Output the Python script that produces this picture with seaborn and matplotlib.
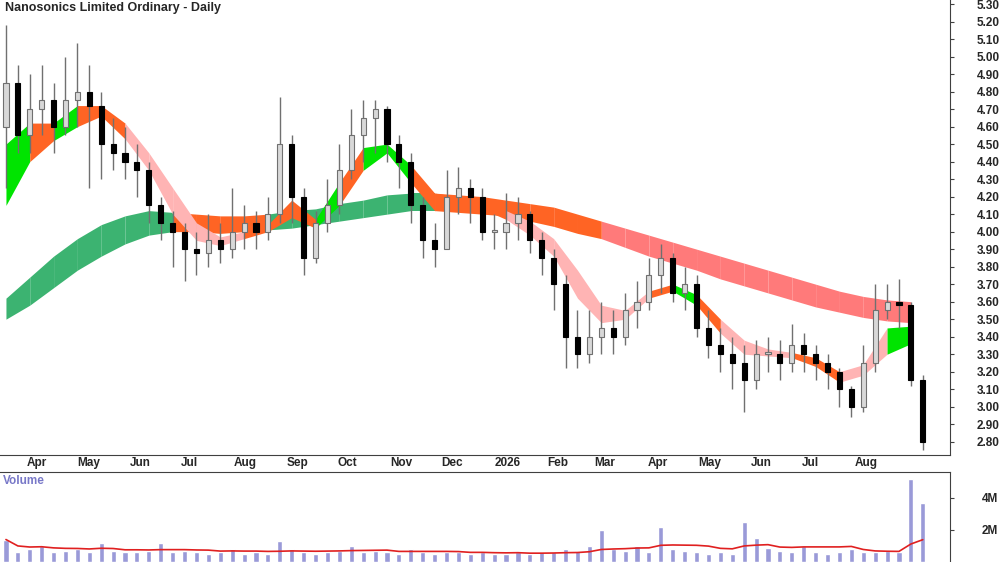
import matplotlib
matplotlib.use("Agg")
import matplotlib.pyplot as plt
import numpy as np
import pandas as pd
import seaborn as sns

TITLE = "Nanosonics Limited Ordinary - Daily"
START = "2025-03-24"

closes = [4.85, 4.55, 4.70, 4.75, 4.60, 4.75, 4.80, 4.72, 4.50, 4.45,
          4.40, 4.35, 4.15, 4.05, 4.00, 3.90, 3.88, 3.95, 3.90, 4.00,
          4.05, 4.00, 4.10, 4.50, 4.20, 3.85, 4.05, 4.15, 4.35, 4.55,
          4.65, 4.70, 4.50, 4.40, 4.15, 3.95, 3.90, 4.20, 4.25, 4.20,
          4.00, 4.00, 4.05, 4.10, 3.95, 3.85, 3.70, 3.40, 3.30, 3.40,
          3.45, 3.40, 3.55, 3.60, 3.75, 3.85, 3.65, 3.70, 3.45, 3.35,
          3.30, 3.25, 3.15, 3.30, 3.30, 3.25, 3.35, 3.30, 3.25, 3.20,
          3.10, 3.00, 3.25, 3.55, 3.60, 3.58, 3.15, 2.80]
first_open = 4.60
highs = [5.18, 4.95, 4.90, 4.95, 4.85, 5.00, 5.08, 4.95, 4.80, 4.65,
         4.60, 4.50, 4.40, 4.20, 4.12, 4.05, 4.00, 4.10, 4.05, 4.25,
         4.15, 4.12, 4.20, 4.77, 4.55, 4.25, 4.12, 4.30, 4.50, 4.70,
         4.75, 4.75, 4.72, 4.55, 4.45, 4.20, 4.05, 4.35, 4.37, 4.30,
         4.25, 4.10, 4.22, 4.20, 4.12, 4.00, 3.90, 3.75, 3.55, 3.55,
         3.60, 3.55, 3.65, 3.72, 3.85, 3.93, 3.88, 3.80, 3.75, 3.55,
         3.45, 3.40, 3.35, 3.38, 3.40, 3.38, 3.47, 3.42, 3.35, 3.30,
         3.22, 3.12, 3.35, 3.70, 3.70, 3.73, 3.60, 3.18]
lows = [4.25, 4.45, 4.45, 4.55, 4.45, 4.55, 4.60, 4.25, 4.30, 4.35,
        4.30, 4.20, 4.05, 3.95, 3.80, 3.72, 3.75, 3.80, 3.82, 3.85,
        3.90, 3.90, 3.95, 4.05, 4.05, 3.75, 3.82, 4.00, 4.10, 4.30,
        4.40, 4.45, 4.40, 4.25, 4.05, 3.85, 3.80, 3.90, 4.10, 4.05,
        3.95, 3.90, 3.90, 3.95, 3.88, 3.75, 3.55, 3.22, 3.22, 3.25,
        3.30, 3.30, 3.35, 3.45, 3.55, 3.65, 3.60, 3.55, 3.40, 3.28,
        3.20, 3.10, 2.97, 3.10, 3.20, 3.15, 3.20, 3.20, 3.15, 3.10,
        3.00, 2.94, 2.97, 3.20, 3.50, 3.45, 3.12, 2.75]
volume_m = [1.4, 0.6, 0.8, 1.0, 0.6, 0.7, 0.8, 0.6, 1.2, 0.7,
            0.6, 0.6, 0.7, 1.2, 0.6, 0.7, 0.6, 0.5, 0.6, 0.8,
            0.5, 0.6, 0.5, 1.3, 0.8, 0.6, 0.5, 0.6, 0.7, 1.0,
            0.6, 0.7, 0.6, 0.5, 0.8, 0.6, 0.5, 0.6, 0.6, 0.5,
            0.6, 0.5, 0.5, 0.6, 0.5, 0.6, 0.6, 0.8, 0.7, 1.0,
            2.0, 0.8, 0.7, 1.0, 0.6, 2.2, 0.8, 0.7, 0.6, 0.5,
            0.6, 0.5, 2.5, 1.5, 0.9, 0.7, 0.6, 1.0, 0.6, 0.5,
            0.6, 0.8, 0.6, 0.6, 0.7, 0.6, 5.2, 3.7]

# moving average ribbons, sampled every second bar
short_upper = [4.50, 4.62, 4.62, 4.72, 4.72, 4.62, 4.45, 4.25, 4.05, 3.97,
               4.00, 4.04, 4.18, 4.07, 4.28, 4.48, 4.50, 4.38, 4.22, 4.20,
               4.17, 4.12, 4.06, 3.96, 3.78, 3.58, 3.55, 3.66, 3.70, 3.64,
               3.50, 3.38, 3.33, 3.31, 3.28, 3.20, 3.24, 3.45, 3.46]
short_lower = [4.15, 4.40, 4.52, 4.60, 4.66, 4.53, 4.35, 4.10, 3.95, 3.92,
               3.96, 4.00, 4.08, 4.02, 4.15, 4.35, 4.45, 4.28, 4.12, 4.14,
               4.13, 4.07, 3.98, 3.86, 3.62, 3.48, 3.50, 3.62, 3.66, 3.58,
               3.42, 3.30, 3.29, 3.28, 3.23, 3.14, 3.18, 3.30, 3.36]
short_state = list("gogoopppppooogoggooooppppppogopppooppggg")
long_upper = [3.62, 3.74, 3.86, 3.96, 4.04, 4.09, 4.12, 4.11, 4.10, 4.09,
              4.09, 4.10, 4.12, 4.13, 4.16, 4.18, 4.21, 4.22, 4.22, 4.21,
              4.20, 4.18, 4.16, 4.14, 4.10, 4.06, 4.02, 3.98, 3.94, 3.90,
              3.86, 3.82, 3.78, 3.74, 3.70, 3.66, 3.63, 3.61, 3.60]
long_lower = [3.50, 3.58, 3.68, 3.78, 3.86, 3.93, 3.98, 4.00, 4.00, 3.99,
              4.00, 4.01, 4.02, 4.04, 4.06, 4.08, 4.10, 4.12, 4.12, 4.11,
              4.10, 4.09, 4.06, 4.03, 3.99, 3.96, 3.91, 3.86, 3.82, 3.78,
              3.73, 3.69, 3.65, 3.61, 3.57, 3.54, 3.51, 3.49, 3.48]
long_state = list("gggggggoooogggggggooooooorrrrrrrrrrrrroo")

SHORT_COLORS = {"g": "#00e400", "p": "#ffb4b4", "o": "#ff6424"}
LONG_COLORS = {"g": "#3cb371", "r": "#ff7a7a", "o": "#ff6424"}
MONTHS = ["Apr", "May", "Jun", "Jul", "Aug", "Sep", "Oct", "Nov", "Dec",
          "2026", "Feb", "Mar", "Apr", "May", "Jun", "Jul", "Aug"]

sns.set_style("white")
plt.rcParams["font.family"] = ["Liberation Sans", "DejaVu Sans"]

dates = pd.date_range(START, periods=len(closes), freq="7D")
opens = [first_open] + closes[:-1]
df = pd.DataFrame({"date": dates, "open": opens, "high": highs, "low": lows,
                   "close": closes, "volume": volume_m})
df["avg"] = df["volume"].rolling(10, min_periods=1).mean()
band_dates = dates[::2]

fig = plt.figure(figsize=(10, 5.62), dpi=100)
ax = fig.add_axes([0, 0.19, 0.95, 0.81])
vax = fig.add_axes([0, 0, 0.95, 0.16])

for upper, lower, state, colors in [(long_upper, long_lower, long_state, LONG_COLORS),
                                    (short_upper, short_lower, short_state, SHORT_COLORS)]:
    for k in range(len(upper) - 1):
        ax.fill_between(band_dates[k:k + 2], lower[k:k + 2], upper[k:k + 2],
                        color=colors[state[k]], lw=0, zorder=1)

ax.vlines(df["date"], df["low"], df["high"], color="#707070", lw=1, zorder=2)
up = df["close"] >= df["open"]
body = (df["close"] - df["open"]).abs().clip(lower=0.01)
bottom = df[["open", "close"]].min(axis=1)
ax.bar(df["date"][up], body[up], bottom=bottom[up], width=3,
       color="#d8d8d8", edgecolor="#707070", lw=0.8, zorder=3)
ax.bar(df["date"][~up], body[~up], bottom=bottom[~up], width=3,
       color="black", edgecolor="black", lw=0.8, zorder=3)

xmin = dates[0] - pd.Timedelta(days=3.5)
xmax = dates[0] + pd.Timedelta(days=555)
for a in (ax, vax):
    a.set_xlim(xmin, xmax)
    a.yaxis.tick_right()
    for s in ("left", "top"):
        a.spines[s].set_visible(False)
    for s in ("right", "bottom"):
        a.spines[s].set_color("#404040")
    a.tick_params(axis="y", direction="out", length=3, pad=16, labelsize=8.5,
                  color="#404040")

ax.set_ylim(2.723, 5.323)
ticks = np.round(np.arange(2.8, 5.31, 0.1), 2)
ax.set_yticks(ticks)
ax.set_yticklabels([f"{t:.2f}" for t in ticks], fontweight="bold")

month_starts = pd.date_range("2025-04-01", periods=len(MONTHS), freq="MS")
ax.set_xticks(month_starts)
ax.set_xticklabels([])
ax.tick_params(axis="x", direction="out", length=3, color="#404040")
for d, name in zip(month_starts, MONTHS):
    ax.text(d + pd.Timedelta(days=4), -0.005, name, transform=ax.get_xaxis_transform(),
            ha="left", va="top", fontsize=8.5, fontweight="bold")
ax.text(0.005, 0.995, TITLE, transform=ax.transAxes, ha="left", va="top",
        fontsize=9, fontweight="bold")

vax.bar(df["date"], df["volume"], width=3, color="#9a9ad8", zorder=2)
sns.lineplot(data=df, x="date", y="avg", ax=vax, color="#e02020", lw=1.2, zorder=3)
vax.set_ylim(0, 5.6)
vax.set_yticks([2, 4])
vax.set_yticklabels(["2M", "4M"], fontweight="bold")
vax.tick_params(axis="y", pad=20)
vax.set_xticks([])
vax.set_xlabel("")
vax.set_ylabel("")
vax.spines["top"].set_visible(True)
vax.spines["top"].set_color("#404040")
vax.spines["bottom"].set_visible(False)
vax.text(0.003, 0.97, "Volume", transform=vax.transAxes, ha="left", va="top",
         fontsize=8.5, fontweight="bold", color="#7878c8")

fig.savefig("out.png", dpi=100)
